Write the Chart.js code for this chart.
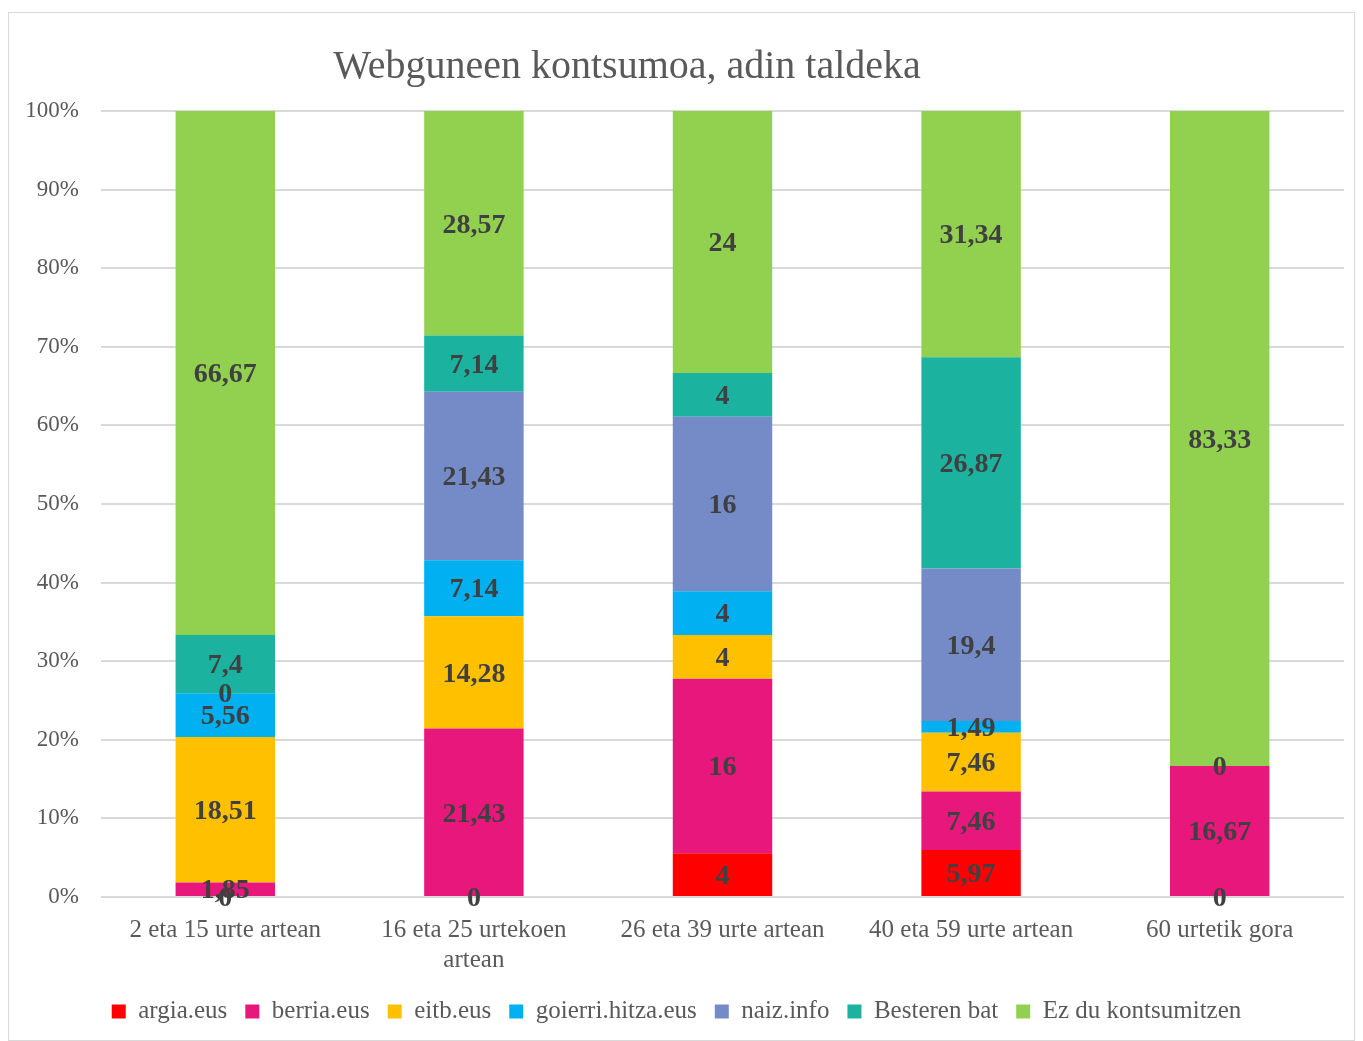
<!DOCTYPE html>
<html lang="eu">
<head>
<meta charset="UTF-8" />
<title>Webguneen kontsumoa, adin taldeka</title>
<script src="https://cdn.jsdelivr.net/npm/chart.js"></script>
<style>
  body { margin: 0; background: #fff; }
  .frame {
    position: absolute; left: 8px; top: 12px;
    width: 1347px; height: 1029px;
    border: 1px solid #d9d9d9; box-sizing: border-box;
  }
</style>
</head>
<body>
<div class="frame"><canvas id="chart"></canvas></div>

<script>
  // categories (age groups)
  const categories = [
    '2 eta 15 urte artean',
    ['16 eta 25 urtekoen', 'artean'],
    '26 eta 39 urte artean',
    '40 eta 59 urte artean',
    '60 urtetik gora'
  ];

  // raw values per website (null = no value / no label)
  const argia    = [0,     0,     4,  5.97,  0];
  const berria   = [1.85,  21.43, 16, 7.46,  16.67];
  const eitb     = [18.51, 14.28, 4,  7.46,  0];
  const goierri  = [5.56,  7.14,  4,  1.49,  null];
  const naiz     = [0,     21.43, 16, 19.4,  null];
  const besteren = [7.4,   7.14,  4,  26.87, null];
  const ez       = [66.67, 28.57, 24, 31.34, 83.33];

  const yTicks = [0, 10, 20, 30, 40, 50, 60, 70, 80, 90, 100];

  const series = [
    { label: 'argia.eus', data: argia, color: '#ff0000' },
    { label: 'berria.eus', data: berria, color: '#e8177b' },
    { label: 'eitb.eus', data: eitb, color: '#ffc000' },
    { label: 'goierri.hitza.eus', data: goierri, color: '#00b0f0' },
    { label: 'naiz.info', data: naiz, color: '#758bc8' },
    { label: 'Besteren bat', data: besteren, color: '#1bb3a0' },
    { label: 'Ez du kontsumitzen', data: ez, color: '#92d050' }
  ];

  // 100% stacked: normalise every category to its total
  const totals = categories.map((c, i) =>
    series.reduce((s, ser) => s + (ser.data[i] || 0), 0));

  const FONT = '"Liberation Serif", "DejaVu Serif", serif';

  const datasets = series.map(ser => ({
    label: ser.label,
    raw: ser.data,
    data: ser.data.map((v, i) => v === null ? null : v / totals[i] * 100),
    backgroundColor: ser.color,
    borderWidth: 0,
    barPercentage: 0.4,
    categoryPercentage: 1
  }));

  // value labels in the middle of each segment
  const segmentLabels = {
    id: 'segmentLabels',
    afterDatasetsDraw(chart) {
      const ctx = chart.ctx;
      ctx.save();
      ctx.font = 'bold 28px ' + FONT;
      ctx.fillStyle = '#404040';
      ctx.textAlign = 'center';
      ctx.textBaseline = 'middle';
      chart.data.datasets.forEach((ds, di) => {
        const meta = chart.getDatasetMeta(di);
        meta.data.forEach((bar, i) => {
          const v = ds.raw[i];
          if (v === null) return;
          const y = (bar.y + bar.base) / 2 + 2;
          ctx.fillText(String(v).replace('.', ','), bar.x, y);
        });
      });
      ctx.restore();
    }
  };

  // title drawn over the plot area like the original
  const chartTitle = {
    id: 'chartTitle',
    afterDraw(chart) {
      const ctx = chart.ctx;
      ctx.save();
      ctx.font = '40px ' + FONT;
      ctx.fillStyle = '#595959';
      ctx.textAlign = 'center';
      ctx.textBaseline = 'middle';
      ctx.fillText('Webguneen kontsumoa, adin taldeka', 618, 54);
      ctx.restore();
    }
  };

  new Chart(document.getElementById('chart'), {
    type: 'bar',
    data: { labels: categories, datasets: datasets },
    plugins: [segmentLabels, chartTitle],
    options: {
      responsive: true,
      maintainAspectRatio: false,
      animation: false,
      layout: { padding: { top: 98, right: 10, bottom: 6, left: 0 } },
      plugins: {
        tooltip: { enabled: false },
        legend: {
          position: 'bottom',
          labels: {
            boxWidth: 14, boxHeight: 14, padding: 18,
            color: '#595959',
            font: { family: FONT, size: 25 }
          }
        }
      },
      scales: {
        x: {
          stacked: true,
          grid: { display: false },
          border: { display: false },
          ticks: { color: '#595959', font: { family: FONT, size: 25 }, padding: 10, maxRotation: 0 },
          afterFit(scale) { scale.height = 84; }
        },
        y: {
          stacked: true,
          min: 0, max: 100,
          afterBuildTicks(scale) { scale.ticks = yTicks.map(v => ({ value: v })); },
          grid: { color: '#d9d9d9', lineWidth: 2, drawTicks: false },
          border: { display: false },
          ticks: {
            color: '#595959', padding: 22,
            font: { family: FONT, size: 23 },
            callback: v => v + '%'
          },
          afterFit(scale) { scale.width = 92; }
        }
      }
    }
  });
</script>
</body>
</html>
